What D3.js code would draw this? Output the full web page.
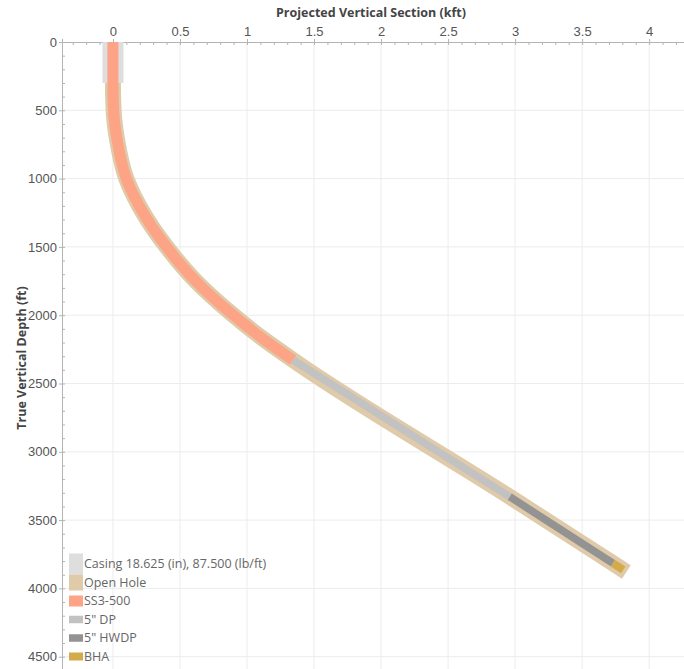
<!DOCTYPE html>
<html>
<head>
<meta charset="utf-8">
<script src="https://cdn.jsdelivr.net/npm/d3@7"></script>
<style>
    body { margin: 0; background: #fff; }
    svg { display: block; font-family: "Open Sans", "Noto Sans", sans-serif; }
    .axis path, .axis line { stroke: #b4b4b4; }
    .axis text { fill: #555; font-size: 13px; }
    .grid line { stroke: #ececec; }
</style>
</head>
<body>
<div id="well-div"></div>
<script>
// ------------------------- survey (TVD in ft, vertical section in kft)
var surveyTvd = [0, 300, 500, 722, 1000, 1279, 1500, 1742, 1985, 2180, 2328, 3329, 3816, 3880];
var surveyVs = [0, 0, 0.005, 0.032, 0.10, 0.243, 0.40, 0.61, 0.88, 1.13, 1.343, 2.96, 3.73, 3.83];

// hole sections and string components, top/bottom in ft TVD
var holeNames = ["Casing 18.625 (in), 87.500 (lb/ft)", "Open Hole"];
var holeTop = [0, 0];
var holeBottom = [300, 3880];

var stringNames = ["SS3-500", "5\" DP", "5\" HWDP", "BHA"];
var stringTop = [0, 2328, 3329, 3816];
var stringBottom = [2328, 3329, 3816, 3865];

var xTicks = [0, 0.5, 1, 1.5, 2, 2.5, 3, 3.5, 4];
var yTicks = [0, 500, 1000, 1500, 2000, 2500, 3000, 3500, 4000, 4500];

// look of each item (colour, band width)
var itemStyle = {
    "Casing 18.625 (in), 87.500 (lb/ft)": { color: "#dedede", width: 21 },
    "Open Hole": { color: "#dfcaa9", width: 16 },
    "SS3-500": { color: "#fda386", width: 11 },
    "5\" DP": { color: "#c2c2c2", width: 7.5 },
    "5\" HWDP": { color: "#939393", width: 7.5 },
    "BHA": { color: "#d3ab4b", width: 8 }
};

function surveyPoints() {
    return surveyTvd.map(function(d, i) { return { tvd: d, vs: surveyVs[i] }; });
}

// cut the survey between two depths, interpolating the ends
function sectionPoints(top, bottom) {
    var pts = surveyPoints();
    var vsAt = d3.scaleLinear().domain(surveyTvd).range(surveyVs);
    var out = [{ tvd: top, vs: vsAt(top) }];
    pts.forEach(function(p) {
        if (p.tvd > top && p.tvd < bottom) out.push(p);
    });
    out.push({ tvd: bottom, vs: vsAt(bottom) });
    return out;
}

function drawChart() {
    var svgWidth = 684;
    var svgHeight = 669;
    var left = 62;
    var top = 42;

    var svg = d3.select('#well-div').append("svg")
        .attr('width', svgWidth)
        .attr('height', svgHeight);

    var x = d3.scaleLinear().domain([-0.38, 4.26]).range([left, svgWidth]);
    var y = d3.scaleLinear().domain([0, 4590]).range([top, svgHeight]);

    // grid
    var grid = svg.append("g").attr("class", "grid");
    grid.selectAll(".vline")
        .data(xTicks)
        .enter().append("line")
        .attr("x1", function(d) { return x(d); })
        .attr("x2", function(d) { return x(d); })
        .attr("y1", top)
        .attr("y2", svgHeight);
    grid.selectAll(".hline")
        .data(yTicks.filter(function(d) { return d !== 0; }))
        .enter().append("line")
        .attr("x1", left)
        .attr("x2", svgWidth)
        .attr("y1", function(d) { return y(d); })
        .attr("y2", function(d) { return y(d); });

    // minor ticks, pointing inside the plot
    svg.append("g")
        .attr("class", "axis")
        .attr("transform", "translate(0," + top + ")")
        .call(d3.axisTop(x).tickValues(d3.range(-0.3, 4.26, 0.1)).tickSize(-3).tickFormat(""));
    svg.append("g")
        .attr("class", "axis")
        .attr("transform", "translate(" + left + ",0)")
        .call(d3.axisLeft(y).tickValues(d3.range(0, 4590, 100)).tickSize(-3).tickFormat(""));

    // major ticks + labels
    svg.append("g")
        .attr("class", "axis")
        .attr("transform", "translate(0," + top + ")")
        .call(d3.axisTop(x).tickValues(xTicks).tickSize(3).tickPadding(3).tickFormat(d3.format("~g")));
    svg.append("g")
        .attr("class", "axis")
        .attr("transform", "translate(" + left + ",0)")
        .call(d3.axisLeft(y).tickValues(yTicks).tickSize(3).tickPadding(2).tickFormat(d3.format("d")));

    // axis titles
    svg.append("text")
        .attr("x", 371)
        .attr("y", 17)
        .style("text-anchor", "middle")
        .style("font-weight", "bold")
        .style("font-size", "12.5px")
        .style("fill", "#444")
        .text("Projected Vertical Section (kft)");
    svg.append("text")
        .attr("transform", "translate(26, 358) rotate(-90)")
        .style("text-anchor", "middle")
        .style("font-weight", "bold")
        .style("font-size", "12.5px")
        .style("fill", "#444")
        .text("True Vertical Depth (ft)");

    var line = d3.line()
        .x(function(d) { return x(d.vs); })
        .y(function(d) { return y(d.tvd); })
        .curve(d3.curveMonotoneY);

    // open hole first, casing over it, then the string
    var bands = [
        { name: holeNames[1], top: holeTop[1], bottom: holeBottom[1] },
        { name: holeNames[0], top: holeTop[0], bottom: holeBottom[0] }
    ];
    stringNames.forEach(function(n, i) {
        bands.push({ name: n, top: stringTop[i], bottom: stringBottom[i] });
    });

    svg.append("g").selectAll("path")
        .data(bands)
        .enter().append("path")
        .attr("d", function(d) { return line(sectionPoints(d.top, d.bottom)); })
        .attr("fill", "none")
        .attr("stroke", function(d) { return itemStyle[d.name].color; })
        .attr("stroke-width", function(d) { return itemStyle[d.name].width; })
        .attr("stroke-linecap", "butt");

    // legend
    var legendNames = holeNames.concat(stringNames);
    var rowY = d3.scalePoint().domain(legendNames).range([564, 656.5]);
    var legend = svg.append("g").selectAll("g")
        .data(legendNames)
        .enter().append("g")
        .attr("transform", function(d) { return "translate(69," + rowY(d) + ")"; });
    legend.append("rect")
        .attr("x", 0)
        .attr("y", function(d) { return -itemStyle[d].width / 2; })
        .attr("width", 14)
        .attr("height", function(d) { return itemStyle[d].width; })
        .attr("fill", function(d) { return itemStyle[d].color; });
    legend.append("text")
        .attr("x", 15)
        .attr("dy", "0.35em")
        .style("font-size", "12.5px")
        .style("fill", "#666")
        .text(function(d) { return d; });
}

drawChart();
</script>
</body>
</html>
